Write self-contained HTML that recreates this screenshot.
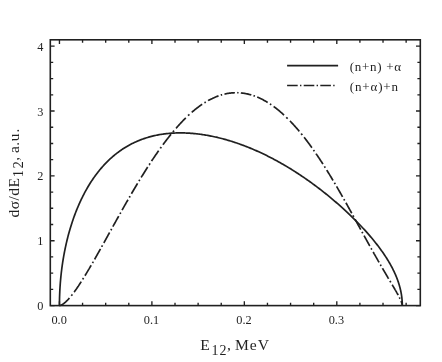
<!DOCTYPE html>
<html><head><meta charset="utf-8"><title>chart</title>
<style>
html,body{margin:0;padding:0;background:#fff;}
body{width:442px;height:362px;overflow:hidden;}
svg{display:block;filter:grayscale(1);font-family:"Liberation Serif",serif;fill:#231f20;}
</style></head><body>
<svg width="442" height="362" viewBox="0 0 442 362">
<rect width="442" height="362" fill="#fff"/>
<rect x="50.3" y="39.8" width="370.0" height="265.8" fill="none" stroke="#231f20" stroke-width="1.6"/>
<path d="M59.45,305.55 v-4.3 M59.45,39.8 v4.3 M82.56,305.55 v-2.9 M82.56,39.8 v2.9 M105.68,305.55 v-2.9 M105.68,39.8 v2.9 M128.79,305.55 v-2.9 M128.79,39.8 v2.9 M151.90,305.55 v-4.3 M151.90,39.8 v4.3 M175.01,305.55 v-2.9 M175.01,39.8 v2.9 M198.12,305.55 v-2.9 M198.12,39.8 v2.9 M221.24,305.55 v-2.9 M221.24,39.8 v2.9 M244.35,305.55 v-4.3 M244.35,39.8 v4.3 M267.46,305.55 v-2.9 M267.46,39.8 v2.9 M290.57,305.55 v-2.9 M290.57,39.8 v2.9 M313.69,305.55 v-2.9 M313.69,39.8 v2.9 M336.80,305.55 v-4.3 M336.80,39.8 v4.3 M359.91,305.55 v-2.9 M359.91,39.8 v2.9 M383.02,305.55 v-2.9 M383.02,39.8 v2.9 M406.14,305.55 v-2.9 M406.14,39.8 v2.9 M50.3,305.55 h4.3 M420.3,305.55 h-4.3 M50.3,289.34 h2.9 M420.3,289.34 h-2.9 M50.3,273.13 h2.9 M420.3,273.13 h-2.9 M50.3,256.92 h2.9 M420.3,256.92 h-2.9 M50.3,240.71 h4.3 M420.3,240.71 h-4.3 M50.3,224.50 h2.9 M420.3,224.50 h-2.9 M50.3,208.29 h2.9 M420.3,208.29 h-2.9 M50.3,192.08 h2.9 M420.3,192.08 h-2.9 M50.3,175.87 h4.3 M420.3,175.87 h-4.3 M50.3,159.66 h2.9 M420.3,159.66 h-2.9 M50.3,143.45 h2.9 M420.3,143.45 h-2.9 M50.3,127.24 h2.9 M420.3,127.24 h-2.9 M50.3,111.03 h4.3 M420.3,111.03 h-4.3 M50.3,94.82 h2.9 M420.3,94.82 h-2.9 M50.3,78.61 h2.9 M420.3,78.61 h-2.9 M50.3,62.40 h2.9 M420.3,62.40 h-2.9 M50.3,46.19 h4.3 M420.3,46.19 h-4.3" fill="none" stroke="#231f20" stroke-width="1.35"/>
<g font-size="12.3"><text x="59.1" y="323.6" text-anchor="middle">0.0</text><text x="151.5" y="323.6" text-anchor="middle">0.1</text><text x="244.0" y="323.6" text-anchor="middle">0.2</text><text x="336.4" y="323.6" text-anchor="middle">0.3</text><text x="43.5" y="310.1" text-anchor="end">0</text><text x="43.5" y="245.2" text-anchor="end">1</text><text x="43.5" y="180.4" text-anchor="end">2</text><text x="43.5" y="115.5" text-anchor="end">3</text><text x="43.5" y="50.7" text-anchor="end">4</text></g>
<path d="M59.45,305.55 L59.45,304.14 L59.46,302.73 L59.48,301.31 L59.50,299.90 L59.53,298.49 L59.57,297.08 L59.62,295.67 L59.67,294.26 L59.73,292.85 L59.79,291.45 L59.86,290.04 L59.94,288.63 L60.02,287.23 L60.12,285.83 L60.21,284.42 L60.32,283.02 L60.43,281.62 L60.55,280.23 L60.67,278.83 L60.81,277.44 L60.95,276.04 L61.09,274.65 L61.24,273.26 L61.40,271.88 L61.57,270.49 L61.74,269.11 L61.92,267.73 L62.11,266.35 L62.30,264.98 L62.50,263.61 L62.70,262.24 L62.92,260.87 L63.14,259.51 L63.36,258.15 L63.59,256.79 L63.83,255.44 L64.08,254.09 L64.33,252.74 L64.59,251.40 L64.86,250.06 L65.13,248.72 L65.41,247.39 L65.69,246.06 L65.99,244.74 L66.28,243.42 L66.59,242.10 L66.90,240.79 L67.22,239.48 L67.54,238.18 L67.87,236.88 L68.21,235.59 L68.55,234.30 L68.90,233.01 L69.26,231.74 L69.62,230.46 L69.99,229.19 L70.37,227.93 L70.75,226.67 L71.14,225.42 L71.54,224.17 L71.94,222.93 L72.34,221.70 L72.76,220.47 L73.18,219.24 L73.60,218.03 L74.04,216.82 L74.48,215.61 L74.92,214.41 L75.37,213.22 L75.83,212.04 L76.29,210.86 L76.76,209.68 L77.24,208.52 L77.72,207.36 L78.21,206.21 L78.70,205.06 L79.20,203.93 L79.71,202.80 L80.22,201.67 L80.74,200.56 L81.26,199.45 L81.79,198.35 L82.33,197.26 L82.87,196.17 L83.42,195.09 L83.97,194.02 L84.53,192.96 L85.09,191.91 L85.66,190.86 L86.24,189.83 L86.82,188.80 L87.41,187.78 L88.00,186.77 L88.60,185.76 L89.21,184.77 L89.82,183.78 L90.43,182.80 L91.06,181.84 L91.68,180.88 L92.32,179.92 L92.95,178.98 L93.60,178.05 L94.25,177.12 L94.90,176.21 L95.56,175.30 L96.23,174.41 L96.90,173.52 L97.57,172.64 L98.25,171.77 L98.94,170.91 L99.63,170.06 L100.33,169.22 L101.03,168.39 L101.74,167.57 L102.45,166.75 L103.17,165.95 L103.89,165.16 L104.62,164.38 L105.35,163.60 L106.09,162.84 L106.83,162.08 L107.58,161.34 L108.33,160.60 L109.09,159.88 L109.85,159.16 L110.62,158.46 L111.39,157.76 L112.16,157.08 L112.95,156.40 L113.73,155.74 L114.52,155.08 L115.32,154.44 L116.12,153.80 L116.92,153.17 L117.73,152.56 L118.54,151.95 L119.36,151.36 L120.18,150.77 L121.01,150.19 L121.84,149.63 L122.67,149.07 L123.51,148.52 L124.36,147.99 L125.20,147.46 L126.05,146.94 L126.91,146.44 L127.77,145.94 L128.64,145.45 L129.50,144.97 L130.38,144.51 L131.25,144.05 L132.13,143.60 L133.02,143.16 L133.90,142.73 L134.80,142.31 L135.69,141.90 L136.59,141.50 L137.50,141.11 L138.40,140.73 L139.31,140.36 L140.23,140.00 L141.14,139.65 L142.07,139.30 L142.99,138.97 L143.92,138.65 L144.85,138.33 L145.79,138.03 L146.72,137.73 L147.67,137.44 L148.61,137.16 L149.56,136.90 L150.51,136.64 L151.47,136.39 L152.43,136.14 L153.39,135.91 L154.35,135.69 L155.32,135.47 L156.29,135.27 L157.26,135.07 L158.24,134.88 L159.22,134.70 L160.20,134.53 L161.18,134.37 L162.17,134.22 L163.16,134.08 L164.15,133.94 L165.15,133.81 L166.15,133.69 L167.15,133.58 L168.15,133.48 L169.16,133.39 L170.16,133.30 L171.17,133.22 L172.19,133.16 L173.20,133.10 L174.22,133.04 L175.24,133.00 L176.26,132.96 L177.29,132.93 L178.31,132.91 L179.34,132.90 L180.37,132.90 L181.40,132.90 L182.44,132.91 L183.47,132.93 L184.51,132.96 L185.55,132.99 L186.59,133.04 L187.64,133.09 L188.68,133.14 L189.73,133.21 L190.78,133.28 L191.83,133.36 L192.88,133.45 L193.93,133.55 L194.99,133.65 L196.04,133.76 L197.10,133.88 L198.16,134.00 L199.22,134.13 L200.28,134.27 L201.34,134.42 L202.41,134.57 L203.47,134.73 L204.54,134.90 L205.60,135.08 L206.67,135.26 L207.74,135.45 L208.81,135.64 L209.88,135.84 L210.95,136.05 L212.03,136.27 L213.10,136.49 L214.17,136.72 L215.25,136.96 L216.32,137.20 L217.40,137.45 L218.47,137.71 L219.55,137.97 L220.63,138.24 L221.71,138.52 L222.78,138.80 L223.86,139.09 L224.94,139.39 L226.02,139.69 L227.10,140.00 L228.18,140.32 L229.26,140.64 L230.34,140.97 L231.41,141.30 L232.49,141.64 L233.57,141.99 L234.65,142.34 L235.73,142.70 L236.81,143.06 L237.89,143.43 L238.97,143.81 L240.04,144.19 L241.12,144.58 L242.20,144.98 L243.28,145.38 L244.35,145.79 L245.43,146.20 L246.50,146.62 L247.58,147.04 L248.65,147.47 L249.72,147.91 L250.80,148.35 L251.87,148.79 L252.94,149.25 L254.01,149.70 L255.08,150.17 L256.15,150.64 L257.21,151.11 L258.28,151.59 L259.34,152.07 L260.41,152.56 L261.47,153.06 L262.53,153.56 L263.59,154.07 L264.65,154.58 L265.71,155.09 L266.76,155.61 L267.82,156.14 L268.87,156.67 L269.92,157.20 L270.97,157.74 L272.02,158.29 L273.07,158.84 L274.11,159.39 L275.16,159.95 L276.20,160.52 L277.24,161.08 L278.28,161.66 L279.31,162.23 L280.35,162.81 L281.38,163.40 L282.41,163.99 L283.44,164.58 L284.46,165.18 L285.49,165.78 L286.51,166.39 L287.53,167.00 L288.55,167.61 L289.56,168.23 L290.58,168.85 L291.59,169.48 L292.59,170.11 L293.60,170.74 L294.60,171.38 L295.60,172.02 L296.60,172.66 L297.60,173.31 L298.59,173.96 L299.58,174.61 L300.57,175.27 L301.55,175.93 L302.53,176.59 L303.51,177.25 L304.49,177.92 L305.46,178.60 L306.43,179.27 L307.40,179.95 L308.36,180.63 L309.32,181.31 L310.28,182.00 L311.24,182.68 L312.19,183.37 L313.14,184.07 L314.08,184.76 L315.03,185.46 L315.96,186.16 L316.90,186.86 L317.83,187.56 L318.76,188.27 L319.68,188.98 L320.61,189.69 L321.52,190.40 L322.44,191.12 L323.35,191.83 L324.25,192.55 L325.16,193.27 L326.06,193.99 L326.95,194.71 L327.85,195.43 L328.73,196.16 L329.62,196.88 L330.50,197.61 L331.37,198.34 L332.25,199.07 L333.11,199.80 L333.98,200.53 L334.84,201.27 L335.70,202.00 L336.55,202.74 L337.39,203.47 L338.24,204.21 L339.08,204.95 L339.91,205.69 L340.74,206.43 L341.57,207.17 L342.39,207.91 L343.21,208.65 L344.02,209.39 L344.83,210.13 L345.63,210.87 L346.43,211.62 L347.23,212.36 L348.02,213.10 L348.80,213.85 L349.59,214.59 L350.36,215.33 L351.13,216.08 L351.90,216.82 L352.66,217.57 L353.42,218.31 L354.17,219.06 L354.92,219.80 L355.66,220.54 L356.40,221.29 L357.13,222.03 L357.86,222.77 L358.58,223.52 L359.30,224.26 L360.01,225.00 L360.72,225.75 L361.42,226.49 L362.12,227.23 L362.81,227.97 L363.50,228.71 L364.18,229.45 L364.85,230.19 L365.52,230.93 L366.19,231.67 L366.85,232.41 L367.50,233.15 L368.15,233.89 L368.80,234.62 L369.43,235.36 L370.07,236.10 L370.69,236.83 L371.32,237.56 L371.93,238.30 L372.54,239.03 L373.15,239.76 L373.75,240.50 L374.34,241.23 L374.93,241.96 L375.51,242.69 L376.09,243.42 L376.66,244.14 L377.22,244.87 L377.78,245.60 L378.33,246.32 L378.88,247.05 L379.42,247.77 L379.96,248.49 L380.49,249.22 L381.01,249.94 L381.53,250.66 L382.04,251.38 L382.55,252.10 L383.05,252.82 L383.54,253.54 L384.03,254.25 L384.51,254.97 L384.99,255.68 L385.46,256.40 L385.92,257.11 L386.38,257.82 L386.83,258.54 L387.27,259.25 L387.71,259.96 L388.15,260.67 L388.57,261.38 L388.99,262.09 L389.41,262.79 L389.81,263.50 L390.21,264.20 L390.61,264.91 L391.00,265.61 L391.38,266.32 L391.76,267.02 L392.13,267.72 L392.49,268.42 L392.85,269.12 L393.20,269.82 L393.54,270.52 L393.88,271.22 L394.21,271.92 L394.53,272.62 L394.85,273.31 L395.16,274.01 L395.47,274.71 L395.76,275.40 L396.06,276.09 L396.34,276.79 L396.62,277.48 L396.89,278.17 L397.16,278.87 L397.42,279.56 L397.67,280.25 L397.92,280.94 L398.16,281.63 L398.39,282.32 L398.61,283.01 L398.83,283.69 L399.05,284.38 L399.25,285.07 L399.45,285.76 L399.64,286.44 L399.83,287.13 L400.01,287.81 L400.18,288.50 L400.35,289.18 L400.51,289.87 L400.66,290.55 L400.80,291.24 L400.94,291.92 L401.08,292.60 L401.20,293.29 L401.32,293.97 L401.43,294.65 L401.54,295.33 L401.63,296.02 L401.73,296.70 L401.81,297.38 L401.89,298.06 L401.96,298.74 L402.02,299.42 L402.08,300.10 L402.13,300.79 L402.18,301.47 L402.22,302.15 L402.25,302.83 L402.27,303.51 L402.29,304.19 L402.30,304.87 L402.30,305.55" fill="none" stroke="#231f20" stroke-width="1.7" stroke-linejoin="round"/>
<path d="M59.45,305.55 L59.45,305.55 L59.45,305.55 L59.45,305.55 L59.46,305.55 L59.46,305.55 L59.47,305.55 L59.48,305.55 L59.49,305.55 L59.51,305.55 L59.52,305.55 L59.54,305.55 L59.55,305.54 L59.57,305.54 L59.60,305.54 L59.62,305.54 L59.64,305.54 L59.67,305.53 L59.70,305.53 L59.73,305.53 L59.76,305.52 L59.79,305.52 L59.83,305.51 L59.86,305.50 L59.90,305.50 L59.94,305.49 L59.98,305.48 L60.03,305.47 L60.07,305.46 L60.12,305.45 L60.17,305.44 L60.22,305.42 L60.27,305.41 L60.32,305.39 L60.38,305.38 L60.43,305.36 L60.49,305.34 L60.55,305.32 L60.61,305.30 L60.68,305.28 L60.74,305.25 L60.81,305.23 L60.88,305.20 L60.95,305.17 L61.02,305.14 L61.09,305.11 L61.17,305.08 L61.25,305.04 L61.33,305.01 L61.41,304.97 L61.49,304.93 L61.57,304.89 L61.66,304.85 L61.74,304.80 L61.83,304.75 L61.92,304.71 L62.01,304.65 L62.11,304.60 L62.20,304.55 L62.30,304.49 L62.40,304.43 L62.50,304.37 L62.60,304.31 L62.70,304.24 L62.81,304.17 L62.92,304.10 L63.03,304.03 L63.14,303.95 L63.25,303.88 L63.36,303.80 L63.48,303.71 L63.59,303.63 L63.71,303.54 L63.83,303.45 L63.95,303.36 L64.08,303.26 L64.20,303.17 L64.33,303.06 L64.46,302.96 L64.59,302.85 L64.72,302.75 L64.85,302.63 L64.99,302.52 L65.12,302.40 L65.26,302.28 L65.40,302.16 L65.54,302.03 L65.69,301.90 L65.83,301.77 L65.98,301.63 L66.13,301.49 L66.28,301.35 L66.43,301.20 L66.58,301.05 L66.73,300.90 L66.89,300.75 L67.05,300.59 L67.21,300.43 L67.37,300.26 L67.53,300.09 L67.70,299.92 L67.86,299.75 L68.03,299.57 L68.20,299.39 L68.37,299.20 L68.54,299.01 L68.71,298.82 L68.89,298.62 L69.07,298.43 L69.25,298.22 L69.41,298.04 M71.30,295.77 L71.32,295.75 L71.51,295.51 L71.71,295.26 L71.91,295.00 L72.12,294.74 L72.32,294.48 L72.39,294.40 M74.13,292.08 L74.14,292.07 L74.36,291.77 L74.58,291.47 L74.80,291.16 L75.03,290.85 L75.25,290.54 L75.48,290.22 L75.71,289.90 L75.94,289.57 L76.17,289.25 L76.40,288.91 L76.64,288.58 L76.87,288.23 L77.11,287.89 L77.35,287.54 L77.59,287.19 L77.83,286.83 L78.07,286.47 L78.32,286.11 L78.56,285.74 L78.81,285.37 L79.06,284.99 L79.31,284.61 L79.56,284.23 L79.82,283.84 L80.07,283.45 L80.33,283.06 L80.59,282.66 L80.85,282.26 L81.11,281.85 L81.23,281.66 M82.67,279.40 L82.68,279.38 L82.95,278.95 L83.22,278.51 L83.49,278.07 L83.53,278.02 M84.95,275.71 L84.96,275.70 L85.24,275.24 L85.53,274.77 L85.81,274.30 L86.10,273.83 L86.39,273.35 L86.68,272.87 L86.97,272.38 L87.26,271.89 L87.56,271.40 L87.86,270.90 L88.15,270.40 L88.45,269.90 L88.75,269.39 L89.05,268.88 L89.36,268.37 L89.66,267.85 L89.97,267.33 L90.28,266.80 L90.58,266.27 L90.90,265.74 L91.16,265.28 M92.48,263.02 L92.51,262.97 L92.83,262.41 L93.15,261.86 L93.27,261.64 M94.59,259.33 L94.60,259.32 L94.93,258.74 L95.26,258.17 L95.59,257.59 L95.92,257.00 L96.25,256.42 L96.59,255.83 L96.92,255.24 L97.26,254.64 L97.60,254.04 L97.94,253.44 L98.28,252.84 L98.62,252.23 L98.96,251.62 L99.31,251.01 L99.65,250.39 L100.00,249.77 L100.35,249.15 L100.48,248.90 M101.75,246.64 L101.75,246.63 L102.11,246.00 L102.47,245.36 L102.52,245.26 M103.80,242.95 L103.81,242.94 L104.17,242.29 L104.54,241.63 L104.90,240.98 L105.27,240.32 L105.64,239.66 L106.00,238.99 L106.37,238.33 L106.74,237.66 L107.12,236.99 L107.49,236.31 L107.86,235.64 L108.24,234.96 L108.62,234.28 L108.99,233.60 L109.37,232.91 L109.59,232.53 M110.84,230.26 L110.86,230.24 L111.24,229.55 L111.61,228.89 M112.89,226.58 L112.89,226.57 L113.28,225.87 L113.67,225.16 L114.07,224.45 L114.46,223.74 L114.86,223.03 L115.26,222.31 L115.65,221.60 L116.05,220.88 L116.45,220.16 L116.85,219.44 L117.26,218.72 L117.66,218.00 L118.07,217.27 L118.47,216.55 L118.69,216.15 M119.96,213.89 L120.00,213.81 L120.42,213.08 L120.73,212.51 M122.04,210.20 L122.07,210.13 L122.49,209.39 L122.91,208.65 L123.33,207.91 L123.75,207.17 L124.17,206.43 L124.59,205.69 L125.01,204.94 L125.44,204.20 L125.86,203.45 L126.29,202.70 L126.71,201.95 L127.14,201.21 L127.57,200.46 L127.97,199.77 M129.27,197.51 L129.30,197.46 L129.73,196.71 L130.06,196.13 M131.41,193.82 L131.43,193.79 L131.86,193.04 L132.30,192.28 L132.75,191.53 L133.19,190.78 L133.63,190.02 L134.07,189.27 L134.52,188.52 L134.97,187.76 L135.41,187.01 L135.86,186.26 L136.31,185.50 L136.76,184.75 L137.21,184.00 L137.57,183.39 M138.93,181.13 L138.96,181.08 L139.42,180.33 L139.77,179.76 M141.18,177.44 L141.19,177.43 L141.65,176.68 L142.11,175.93 L142.57,175.19 L143.03,174.44 L143.50,173.70 L143.96,172.95 L144.43,172.21 L144.89,171.47 L145.36,170.73 L145.82,169.99 L146.29,169.25 L146.76,168.51 L147.23,167.77 L147.70,167.04 L147.71,167.02 M149.17,164.75 L149.18,164.75 L149.65,164.02 L150.07,163.38 M151.59,161.07 L151.61,161.03 L152.09,160.31 L152.57,159.59 L153.05,158.87 L153.53,158.15 L154.01,157.44 L154.49,156.73 L154.98,156.02 L155.46,155.31 L155.94,154.60 L156.43,153.90 L156.91,153.20 L157.40,152.50 L157.89,151.80 L158.37,151.10 L158.70,150.64 M160.31,148.38 L160.33,148.34 L160.82,147.66 L161.30,147.00 M162.99,144.69 L163.04,144.61 L163.54,143.94 L164.03,143.28 L164.53,142.61 L165.02,141.95 L165.52,141.29 L166.02,140.64 L166.52,139.99 L167.02,139.34 L167.52,138.69 L168.02,138.05 L168.52,137.41 L169.02,136.77 L169.53,136.14 L170.03,135.51 L170.53,134.88 L171.03,134.26 M172.89,132.00 L172.93,131.95 L173.44,131.34 L173.95,130.73 L174.04,130.62 M176.02,128.31 L176.05,128.28 L176.56,127.70 L177.07,127.11 L177.58,126.54 L178.09,125.96 L178.61,125.39 L179.12,124.83 L179.63,124.27 L180.15,123.71 L180.66,123.15 L181.18,122.60 L181.69,122.06 L182.21,121.52 L182.73,120.98 L183.24,120.45 L183.76,119.92 L184.28,119.39 L184.80,118.87 L185.32,118.36 L185.78,117.90 M188.05,115.72 L188.05,115.72 L188.57,115.23 L189.09,114.75 L189.42,114.44 M191.73,112.38 L191.77,112.34 L192.30,111.89 L192.82,111.44 L193.35,110.99 L193.87,110.55 L194.40,110.12 L194.93,109.69 L195.45,109.26 L195.98,108.84 L196.51,108.43 L197.04,108.01 L197.56,107.61 L198.09,107.21 L198.62,106.81 L199.15,106.42 L199.68,106.04 L200.21,105.66 L200.74,105.28 L201.27,104.91 L201.80,104.55 L202.16,104.30 M204.42,102.82 L204.46,102.80 L204.99,102.47 L205.52,102.14 L205.80,101.97 M208.11,100.63 L208.12,100.62 L208.66,100.32 L209.19,100.03 L209.72,99.75 L210.26,99.47 L210.79,99.20 L211.33,98.93 L211.86,98.66 L212.40,98.41 L212.93,98.15 L213.47,97.91 L214.01,97.67 L214.54,97.43 L215.08,97.20 L215.61,96.98 L216.15,96.76 L216.69,96.55 L217.22,96.34 L217.76,96.14 L218.30,95.94 L218.54,95.86 M220.80,95.11 L220.85,95.09 L221.39,94.93 L221.93,94.77 L222.18,94.70 M224.49,94.10 L224.55,94.09 L225.09,93.97 L225.62,93.85 L226.16,93.74 L226.70,93.63 L227.24,93.53 L227.78,93.44 L228.32,93.35 L228.86,93.27 L229.39,93.19 L229.93,93.12 L230.47,93.05 L231.01,92.99 L231.55,92.94 L232.09,92.89 L232.63,92.85 L233.16,92.81 L233.70,92.78 L234.24,92.76 L234.78,92.74 L234.92,92.73 M237.18,92.72 L237.20,92.72 L237.74,92.74 L238.28,92.75 L238.55,92.77 M240.87,92.92 L240.90,92.93 L241.44,92.98 L241.97,93.04 L242.51,93.10 L243.05,93.17 L243.59,93.24 L244.12,93.33 L244.66,93.41 L245.20,93.50 L245.73,93.60 L246.27,93.71 L246.81,93.82 L247.34,93.93 L247.88,94.05 L248.41,94.18 L248.95,94.31 L249.49,94.45 L250.02,94.59 L250.56,94.74 L251.09,94.89 L251.29,94.95 M253.55,95.68 L253.56,95.68 L254.10,95.87 L254.63,96.06 L254.93,96.17 M257.24,97.07 L257.29,97.09 L257.82,97.32 L258.36,97.55 L258.89,97.78 L259.42,98.02 L259.95,98.27 L260.48,98.52 L261.01,98.78 L261.54,99.04 L262.07,99.30 L262.60,99.58 L263.13,99.85 L263.66,100.14 L264.19,100.42 L264.71,100.72 L265.24,101.02 L265.77,101.32 L266.30,101.63 L266.82,101.94 L267.35,102.26 L267.67,102.46 M269.93,103.90 L269.98,103.93 L270.50,104.28 L271.02,104.64 L271.31,104.83 M273.62,106.47 L273.64,106.48 L274.16,106.86 L274.68,107.25 L275.20,107.65 L275.72,108.04 L276.24,108.45 L276.76,108.85 L277.28,109.27 L277.80,109.68 L278.31,110.11 L278.83,110.53 L279.35,110.96 L279.86,111.40 L280.38,111.84 L280.89,112.28 L281.41,112.73 L281.92,113.19 L282.44,113.64 L282.95,114.11 L283.46,114.57 L283.98,115.04 L284.05,115.11 M286.31,117.25 L286.34,117.28 L286.85,117.77 L287.36,118.27 L287.69,118.60 M289.97,120.91 L290.02,120.96 L290.52,121.49 L291.03,122.02 L291.53,122.55 L292.04,123.09 L292.54,123.63 L293.04,124.17 L293.54,124.72 L294.04,125.27 L294.54,125.83 L295.04,126.38 L295.54,126.95 L296.04,127.51 L296.54,128.08 L297.04,128.66 L297.53,129.23 L298.03,129.82 L298.52,130.40 L299.02,130.99 L299.31,131.34 M301.18,133.60 L301.23,133.67 L301.73,134.28 L302.22,134.89 L302.29,134.98 M304.12,137.29 L304.17,137.35 L304.66,137.98 L305.14,138.60 L305.63,139.23 L306.11,139.86 L306.59,140.50 L307.08,141.14 L307.56,141.78 L308.04,142.42 L308.52,143.07 L309.00,143.72 L309.48,144.37 L309.96,145.02 L310.43,145.68 L310.91,146.34 L311.39,147.00 L311.86,147.66 L311.90,147.71 M313.50,149.98 L313.52,150.01 L313.99,150.68 L314.46,151.35 M316.05,153.66 L316.10,153.74 L316.57,154.42 L317.03,155.11 L317.50,155.80 L317.96,156.49 L318.43,157.18 L318.89,157.88 L319.35,158.57 L319.81,159.27 L320.27,159.97 L320.73,160.67 L321.19,161.37 L321.65,162.08 L322.10,162.78 L322.56,163.49 L322.95,164.09 M324.39,166.35 L324.43,166.41 L324.88,167.13 L325.26,167.73 M326.71,170.04 L326.73,170.08 L327.17,170.79 L327.62,171.51 L328.06,172.23 L328.51,172.95 L328.95,173.67 L329.39,174.39 L329.83,175.12 L330.27,175.84 L330.71,176.56 L331.15,177.29 L331.58,178.01 L332.02,178.73 L332.45,179.46 L332.88,180.18 L333.05,180.47 M334.40,182.73 L334.45,182.81 L334.88,183.54 L335.21,184.11 M336.57,186.42 L336.58,186.44 L337.00,187.17 L337.43,187.89 L337.85,188.62 L338.27,189.34 L338.69,190.07 L339.10,190.79 L339.52,191.52 L339.94,192.24 L340.35,192.96 L340.77,193.68 L341.18,194.41 L341.59,195.13 L342.00,195.85 L342.41,196.57 L342.57,196.84 M343.85,199.11 L343.89,199.17 L344.29,199.88 L344.63,200.48 M345.93,202.80 L345.95,202.83 L346.35,203.54 L346.74,204.25 L347.14,204.95 L347.53,205.66 L347.93,206.37 L348.32,207.07 L348.71,207.77 L349.10,208.48 L349.49,209.18 L349.88,209.87 L350.27,210.57 L350.65,211.27 L351.04,211.96 L351.42,212.65 L351.74,213.22 M352.99,215.48 L352.99,215.49 L353.37,216.18 L353.75,216.86 L353.75,216.86 M355.02,219.17 L355.05,219.23 L355.42,219.90 L355.79,220.58 L356.16,221.24 L356.53,221.91 L356.89,222.58 L357.26,223.24 L357.62,223.90 L357.98,224.56 L358.34,225.22 L358.70,225.87 L359.06,226.52 L359.42,227.17 L359.77,227.82 L360.13,228.46 L360.48,229.11 L360.75,229.60 M362.00,231.86 L362.01,231.89 L362.36,232.52 L362.70,233.15 L362.75,233.24 M364.03,235.55 L364.03,235.55 L364.37,236.17 L364.70,236.78 L365.04,237.39 L365.37,237.99 L365.71,238.60 L366.04,239.20 L366.37,239.80 L366.70,240.39 L367.03,240.99 L367.35,241.58 L367.68,242.16 L368.00,242.75 L368.32,243.33 L368.65,243.91 L368.96,244.48 L369.28,245.06 L369.60,245.63 L369.80,245.98 M371.06,248.24 L371.09,248.29 L371.40,248.85 L371.70,249.40 L371.83,249.62 M373.12,251.93 L373.15,251.97 L373.45,252.50 L373.75,253.03 L374.04,253.56 L374.34,254.08 L374.63,254.60 L374.92,255.12 L375.22,255.64 L375.51,256.15 L375.79,256.66 L376.08,257.16 L376.37,257.66 L376.65,258.16 L376.93,258.66 L377.21,259.15 L377.49,259.64 L377.77,260.13 L378.05,260.62 L378.32,261.10 L378.60,261.57 L378.87,262.05 L379.05,262.35 M380.35,264.62 L380.38,264.66 L380.64,265.12 L380.90,265.57 L381.15,265.99 M382.49,268.30 L382.50,268.33 L382.75,268.76 L383.00,269.18 L383.25,269.61 L383.49,270.03 L383.74,270.44 L383.98,270.86 L384.22,271.27 L384.46,271.68 L384.70,272.09 L384.94,272.49 L385.17,272.89 L385.41,273.29 L385.64,273.68 L385.87,274.07 L386.10,274.46 L386.33,274.85 L386.55,275.23 L386.78,275.61 L387.00,275.99 L387.22,276.36 L387.44,276.73 L387.66,277.10 L387.88,277.46 L388.09,277.83 L388.31,278.19 L388.52,278.55 L388.63,278.73 M389.98,280.99 L389.99,281.01 L390.19,281.35 L390.39,281.68 L390.58,282.01 L390.78,282.34 L390.80,282.37 M392.17,284.68 L392.19,284.71 L392.37,285.02 L392.55,285.32 L392.73,285.62 L392.90,285.92 L393.08,286.21 L393.25,286.51 L393.42,286.80 L393.59,287.09 L393.76,287.37 L393.93,287.66 L394.10,287.94 L394.26,288.22 L394.42,288.49 L394.58,288.77 L394.74,289.04 L394.90,289.31 L395.05,289.58 L395.21,289.84 L395.36,290.10 L395.51,290.37 L395.66,290.62 L395.81,290.88 L395.95,291.13 L396.10,291.39 L396.24,291.64 L396.38,291.88 L396.52,292.13 L396.66,292.37 L396.80,292.61 L396.93,292.85 L397.06,293.09 L397.20,293.33 L397.32,293.56 L397.45,293.79 L397.58,294.02 L397.70,294.24 L397.83,294.47 L397.95,294.69 L398.07,294.91 L398.17,295.11 M399.35,297.37 L399.36,297.39 L399.46,297.59 L399.56,297.78 L399.65,297.97 L399.75,298.16 L399.84,298.35 L399.93,298.54 L400.02,298.73 L400.03,298.75 M401.05,301.06 L401.06,301.07 L401.12,301.23 L401.18,301.39 L401.24,301.55 L401.30,301.70 L401.36,301.85 L401.41,302.00 L401.47,302.15 L401.52,302.30 L401.57,302.44 L401.62,302.58 L401.67,302.72 L401.71,302.86 L401.76,303.00 L401.80,303.13 L401.84,303.27 L401.88,303.40 L401.91,303.52 L401.95,303.65 L401.98,303.77 L402.01,303.90 L402.04,304.02 L402.07,304.13 L402.10,304.25 L402.13,304.36 L402.15,304.47 L402.17,304.58 L402.19,304.68 L402.21,304.78 L402.23,304.88 L402.24,304.97 L402.25,305.06 L402.27,305.15 L402.28,305.23 L402.28,305.31 L402.29,305.38 L402.30,305.44 L402.30,305.50 L402.30,305.54 L402.30,305.55" fill="none" stroke="#231f20" stroke-width="1.7" stroke-linejoin="round"/>
<path d="M287.1,65.7 H338.1" fill="none" stroke="#231f20" stroke-width="1.7"/>
<path d="M287.10,85.5 h10.6 M300.00,85.5 h1.4 M303.70,85.5 h10.6 M316.60,85.5 h1.4 M320.30,85.5 h10.6 M333.20,85.5 h1.4" fill="none" stroke="#231f20" stroke-width="1.7"/>
<text x="349.8" y="71.4" font-size="13" letter-spacing="0.7">(n+n) +α</text>
<text x="349.8" y="90.6" font-size="13" letter-spacing="0.85">(n+α)+n</text>
<text x="200.2" y="350.0" font-size="15.6">E<tspan font-size="14" dy="4.6" x="211.5 219.4">12</tspan><tspan dy="-4.6" x="227.1 231.8 235.0 249.8 257.7">, MeV</tspan></text>
<text transform="translate(18.6,217.6) rotate(-90)" font-size="15.4" letter-spacing="0.56">dσ/dE<tspan font-size="14.5" dy="4.6" dx="0.3 0.8">12</tspan><tspan dy="-4.6" dx="0 0 -1.2 0 0 0.5">, a.u.</tspan></text>
</svg>
</body></html>
